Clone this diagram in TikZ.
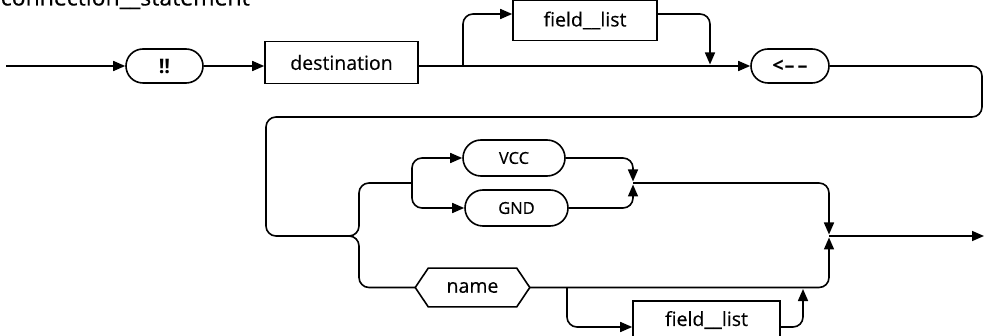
\documentclass[tikz,border=0pt]{standalone}
\usepackage{fontspec}
\setmainfont{Open Sans}
\usetikzlibrary{arrows.meta}
\begin{document}
\begin{tikzpicture}[x=1pt,y=-1pt,
  line width=1.6pt,
  track/.style={draw, rounded corners=10pt},
  arr/.style={-{Triangle[length=12pt,width=10pt]}},
  term/.style={draw, rounded corners=17pt, minimum height=34pt, inner sep=0pt,
    font=\fontsize{20}{23}\selectfont\bfseries},
  softterm/.style={draw, rounded corners=18pt, minimum height=36pt, inner sep=0pt,
    font=\fontsize{16.5}{19}\selectfont\addfontfeature{FakeBold=0.4}},
  nonterm/.style={draw, rectangle, inner sep=0pt,
    font=\fontsize{19.5}{23}\selectfont\addfontfeature{FakeBold=0.4}},
  plain/.style={inner sep=0pt, font=\fontsize{19.5}{23}\selectfont\addfontfeature{FakeBold=0.4}},
]
\useasboundingbox (0,0) rectangle (984,336);

% heading of the rule
\node[anchor=base west, inner sep=0pt, font=\fontsize{23}{26}\selectfont\addfontfeature{FakeBold=0.4}]
  (title) at (0,5.5) {connection\_\_statement};

% first row
\node[term, minimum width=77pt] (bang) at (164.5,66) {!!};
\node[nonterm, minimum width=153pt, minimum height=42pt] (dest) at (341.5,62.5) {destination};
\node[nonterm, minimum width=144pt, minimum height=40pt] (fla) at (585,20.5) {field\_\_list};
\node[term, minimum width=78pt] (assign) at (790,66) {<\kern1pt{--}\kern3pt{--}};

% second part
\node[softterm, minimum width=102pt] (vcc) at (514,158) {VCC};
\node[softterm, minimum width=103pt] (gnd) at (516.5,208) {GND};
\node[plain, minimum width=113pt, minimum height=37pt] (name) at (472.5,287.5) {name};
\draw (name.west) -- ([xshift=13pt]name.north west) -- ([xshift=-13pt]name.north east)
  -- (name.east) -- ([xshift=-13pt]name.south east) -- ([xshift=13pt]name.south west) -- cycle;
\node[nonterm, minimum width=147pt, minimum height=38pt] (flb) at (706.5,320) {field\_\_list};

\coordinate (start) at (6,66);
\coordinate (brace) at (349,236);
\coordinate (split) at (412,183);
\coordinate (merge) at (633,183);
\coordinate (exit) at (829,236);
\coordinate (finish) at (984,236);

% first row connectors
\draw[arr] (start) -- (bang.west);
\draw[arr] (bang.east) -- (dest.west |- bang.east);
\draw[arr] (dest.east |- bang.east) -- (assign.west);
\draw[track, arr] (463,66) |- (fla.west |- 0,14);
\draw[track, arr] (fla.east |- 0,14) -| (710,64.5);

% wrap to the second part
\draw[track] (assign.east) -- (982,66) -- (982,117) -- (266,117) -- (266,236) -- (brace);
\draw[track] (brace) -- (359,236) -- (359,183) -- (split);
\draw[track] (brace) -- (359,236) -- (359,287.5) -- (name.west);

% VCC / GND choice
\draw[track, arr] (split) |- (vcc.west);
\draw[track, arr] (split) |- (gnd.west);
\draw[track, arr] (vcc.east) -| (633,181.5);
\draw[track, arr] (gnd.east) -| (633,184.5);
\draw[track, arr] (merge) -| (829,234.5);

% name with optional field list
\draw[track, arr] (name.east) -| (829,237.5);
\draw[track, arr] (567,287.5) |- (flb.west |- 0,327);
\draw[track, arr] (flb.east |- 0,327) -| (803,289);

\draw[arr] (exit) -- (finish);
\end{tikzpicture}
\end{document}
